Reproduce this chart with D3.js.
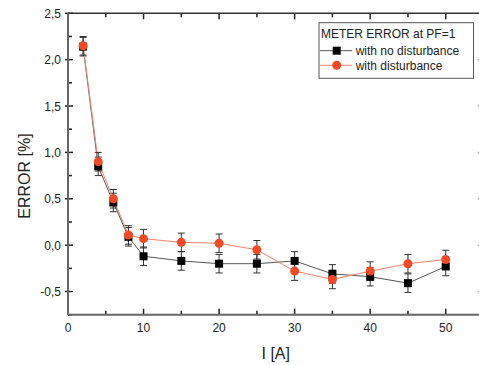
<!DOCTYPE html>
<html>
<head>
<meta charset="utf-8">
<script src="https://cdn.jsdelivr.net/npm/d3@7"></script>
<style>
  body { margin: 0; background: #fff; }
  text { font-family: "Liberation Sans", Arial, sans-serif; fill: #222; }
</style>
</head>
<body>
<svg id="chart" width="479" height="365"></svg>
<script>
// currents [A]
var current = [2, 4, 6, 8, 10, 15, 20, 25, 30, 35, 40, 45, 50];
// meter error [%]
var noDisturbance = [2.14, 0.85, 0.46, 0.09, -0.12, -0.17, -0.20, -0.20, -0.17, -0.31, -0.34, -0.41, -0.23];
var withDisturbance = [2.15, 0.90, 0.50, 0.11, 0.07, 0.03, 0.02, -0.05, -0.28, -0.37, -0.28, -0.20, -0.155];
var errBar = [0.1, 0.1, 0.1, 0.1, 0.1, 0.1, 0.1, 0.1, 0.1, 0.1, 0.1, 0.1, 0.1];
var xTicks = [0, 10, 20, 30, 40, 50];
var yTicks = [-0.5, 0, 0.5, 1.0, 1.5, 2.0, 2.5];
var seriesNames = ["with no disturbance", "with disturbance"];

var svg = d3.select("#chart");
var pLeft = 68, pRight = 483.5, pTop = 13.3, pBottom = 314.7;

var x = d3.scaleLinear().domain([0, 55]).range([pLeft, pRight]);
var y = d3.scaleLinear().domain([-0.75, 2.5]).range([pBottom, pTop]);
var fmt = function(d){ return d3.format(".1f")(d).replace(".", ",").replace("−", "-"); };

// minor ticks
var xMinor = d3.range(5, 55, 10);
var yMinor = d3.range(-0.75, 2.5, 0.5);

function ticksX(g, vals, len, yPos, dir) {
  g.selectAll(null).data(vals).enter().append("line")
    .attr("x1", d => x(d)).attr("x2", d => x(d))
    .attr("y1", yPos).attr("y2", yPos + dir * len)
    .attr("stroke", "#222").attr("stroke-width", 1.5);
}
function ticksY(g, vals, len, xPos, dir) {
  g.selectAll(null).data(vals).enter().append("line")
    .attr("y1", d => y(d)).attr("y2", d => y(d))
    .attr("x1", xPos).attr("x2", xPos + dir * len)
    .attr("stroke", "#222").attr("stroke-width", 1.5);
}

var axes = svg.append("g");
ticksX(axes, xTicks, 6, pBottom, -1);
ticksX(axes, xMinor, 4, pBottom, -1);
ticksX(axes, xTicks, 6, pTop, 1);
ticksX(axes, xMinor, 4, pTop, 1);
ticksY(axes, yTicks, 5, pLeft, 1);
ticksY(axes, yTicks, 3, pLeft, -1);
ticksY(axes, yMinor, 4, pLeft, 1);
ticksY(axes, yTicks, 5, pRight, -1);
ticksY(axes, yMinor, 4, pRight, -1);

axes.append("line").attr("x1", pLeft).attr("x2", pRight).attr("y1", pTop).attr("y2", pTop)
  .attr("stroke", "#333").attr("stroke-width", 1.5);
axes.append("line").attr("x1", pRight).attr("x2", pRight).attr("y1", pTop).attr("y2", pBottom)
  .attr("stroke", "#333").attr("stroke-width", 1.5);
axes.append("line").attr("x1", pLeft).attr("x2", pRight).attr("y1", pBottom).attr("y2", pBottom)
  .attr("stroke", "#666").attr("stroke-width", 2);
axes.append("line").attr("x1", pLeft).attr("x2", pLeft).attr("y1", pTop).attr("y2", pBottom)
  .attr("stroke", "#666").attr("stroke-width", 2);

axes.selectAll(null).data(xTicks).enter().append("text")
  .attr("x", d => x(d)).attr("y", pBottom + 17)
  .attr("text-anchor", "middle").attr("font-size", 12).text(d => d);
axes.selectAll(null).data(yTicks).enter().append("text")
  .attr("x", pLeft - 7).attr("y", d => y(d) + 4.5)
  .attr("text-anchor", "end").attr("font-size", 12).text(fmt);

svg.append("text").attr("x", (pLeft + pRight) / 2).attr("y", 359)
  .attr("text-anchor", "middle").attr("font-size", 16).text("I [A]");
svg.append("text").attr("transform", "translate(30,176) rotate(-90)")
  .attr("text-anchor", "middle").attr("font-size", 16).text("ERROR [%]");

var series = [
  { vals: noDisturbance, line: "#555", mark: "#000", shape: "square" },
  { vals: withDisturbance, line: "#f3826e", mark: "#ee4b26", shape: "circle" }
];

var line = d3.line().x((d, i) => x(current[i])).y(d => y(d));

series.forEach(function(s) {
  var g = svg.append("g");
  g.append("path").datum(s.vals).attr("d", line)
    .attr("fill", "none").attr("stroke", s.line).attr("stroke-width", 1);
  var eb = g.selectAll(null).data(s.vals).enter().append("g").attr("stroke", "#333").attr("stroke-width", 1);
  eb.append("line").attr("x1", (d, i) => x(current[i])).attr("x2", (d, i) => x(current[i]))
    .attr("y1", (d, i) => y(d + errBar[i])).attr("y2", (d, i) => y(d - errBar[i]));
  eb.append("line").attr("x1", (d, i) => x(current[i]) - 3.5).attr("x2", (d, i) => x(current[i]) + 3.5)
    .attr("y1", (d, i) => y(d + errBar[i])).attr("y2", (d, i) => y(d + errBar[i]));
  eb.append("line").attr("x1", (d, i) => x(current[i]) - 3.5).attr("x2", (d, i) => x(current[i]) + 3.5)
    .attr("y1", (d, i) => y(d - errBar[i])).attr("y2", (d, i) => y(d - errBar[i]));
});

series.forEach(function(s) {
  var g = svg.append("g");
  if (s.shape === "square") {
    g.selectAll(null).data(s.vals).enter().append("rect")
      .attr("x", (d, i) => x(current[i]) - 4).attr("y", d => y(d) - 4)
      .attr("width", 8).attr("height", 8).attr("fill", s.mark);
  } else {
    g.selectAll(null).data(s.vals).enter().append("circle")
      .attr("cx", (d, i) => x(current[i])).attr("cy", d => y(d))
      .attr("r", 4.5).attr("fill", s.mark);
  }
});

// legend
var lg = svg.append("g");
lg.append("rect").attr("x", 319).attr("y", 22.7).attr("width", 154.5).attr("height", 55.6)
  .attr("fill", "#fff").attr("stroke", "#555").attr("stroke-width", 1);
lg.append("text").attr("x", 321).attr("y", 38.3).attr("font-size", 12).text("METER ERROR at PF=1");
series.forEach(function(s, i) {
  var yy = 50.7 + i * 14.6;
  lg.append("line").attr("x1", 320).attr("x2", 352).attr("y1", yy).attr("y2", yy)
    .attr("stroke", s.line).attr("stroke-width", 1);
  if (s.shape === "square") {
    lg.append("rect").attr("x", 336.7 - 4).attr("y", yy - 4).attr("width", 8).attr("height", 8).attr("fill", s.mark);
  } else {
    lg.append("circle").attr("cx", 336.7).attr("cy", yy).attr("r", 4.5).attr("fill", s.mark);
  }
  lg.append("text").attr("x", 355.7).attr("y", yy + 4.3).attr("font-size", 12).text(seriesNames[i]);
});
</script>
</body>
</html>
